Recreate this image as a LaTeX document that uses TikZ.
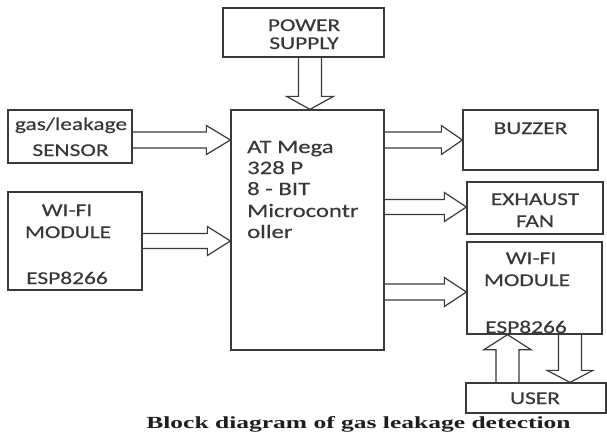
\documentclass[tikz,border=0pt]{standalone}
\usepackage{fontspec}
\usetikzlibrary{calc}
\newfontfamily\diagfont[FakeStretch=1.3,FakeBold=0.4]{Carlito}
\newfontfamily\capfont[FakeStretch=1.5]{Liberation Serif}
\definecolor{linegray}{HTML}{3A3A3A}
\definecolor{txtgray}{HTML}{383838}
\definecolor{capcol}{HTML}{1E1E1E}
\newcommand\blkH[5]{%
  \draw[barrow] let \p1=#1, \p2=#2 in
    (\x1,{\y2+#3}) -- ({\x2-#5},{\y2+#3}) -- ({\x2-#5},{\y2+#4}) -- (\x2,\y2)
    -- ({\x2-#5},{\y2-#4}) -- ({\x2-#5},{\y2-#3}) -- (\x1,{\y2-#3});}
\newcommand\blkV[5]{%
  \draw[barrow] let \p1=#1, \p2=#2 in
    ({\x2-#3},\y1) -- ({\x2-#3},{\y2+(#5)}) -- ({\x2-#4},{\y2+(#5)}) -- (\x2,\y2)
    -- ({\x2+#4},{\y2+(#5)}) -- ({\x2+#3},{\y2+(#5)}) -- ({\x2+#3},\y1);}
\begin{document}
\begin{tikzpicture}[x=1pt,y=-1pt,
  box/.style={draw=linegray,line width=1.3pt,inner sep=0pt,rectangle},
  lbl/.style={inner sep=0pt,anchor=base,text=txtgray,font=\diagfont\fontsize{18}{21}\selectfont},
  mculbl/.style={inner sep=0pt,anchor=base west,text=txtgray,font=\diagfont\fontsize{19}{21}\selectfont},
  barrow/.style={draw=linegray,line width=1.2pt,line join=miter}]
\useasboundingbox (0,0) rectangle (607,434);
% boxes
\node[box,minimum width=161pt,minimum height=49pt] (power) at (303.5,32.5) {};
\node[box,minimum width=124pt,minimum height=53pt] (sensor) at (70,136.5) {};
\node[box,minimum width=134pt,minimum height=98pt] (wifiL) at (75,241) {};
\node[box,minimum width=153pt,minimum height=240pt] (mcu) at (307.5,230) {};
\node[box,minimum width=135pt,minimum height=60pt] (buzzer) at (530.5,140) {};
\node[box,minimum width=136pt,minimum height=52pt] (exhaust) at (535,208) {};
\node[box,minimum width=135pt,minimum height=92pt] (wifiR) at (534.5,288) {};
\node[box,minimum width=140pt,minimum height=30pt] (user) at (536,398) {};
% texts
\node[lbl] (tpow1) at (304,31) {POWER};
\node[lbl] (tpow2) at (304,49) {SUPPLY};
\node[lbl] (tsen1) at (71,130) {gas/leakage};
\node[lbl] (tsen2) at (70.5,156) {SENSOR};
\node[lbl] (twl1) at (67,216) {WI-FI};
\node[lbl] (twl2) at (68,238) {MODULE};
\node[lbl] (twl3) at (67,284) {ESP8266};
\node[mculbl] (tm1) at (247,153) {AT Mega};
\node[mculbl] (tm2) at (247,174) {328 P};
\node[mculbl] (tm3) at (247,195) {8 - BIT};
\node[mculbl] (tm4) at (247,217) {Microcontr};
\node[mculbl] (tm5) at (247,238) {oller};
\node[lbl] (tbuz) at (530.5,134) {BUZZER};
\node[lbl] (tex1) at (535,205) {EXHAUST};
\node[lbl] (tex2) at (535,227) {FAN};
\node[lbl] (twr1) at (531,264) {WI-FI};
\node[lbl] (twr2) at (527,286) {MODULE};
\node[lbl] (twr3) at (526,333) {ESP8266};
\node[lbl] (tuser) at (535,404) {USER};
\node[inner sep=0pt,anchor=base,text=capcol,font=\capfont\bfseries\fontsize{17}{20}\selectfont] (caption) at (358.5,428) {Block diagram of gas leakage detection};
% arrow reference coordinates
\coordinate (yS) at (0,140);
\coordinate (yW) at (0,241);
\coordinate (yB) at (0,140);
\coordinate (yE) at (0,207);
\coordinate (yR) at (0,292);
\coordinate (xP) at (310,0);
\coordinate (xU) at (507.5,0);
\coordinate (xD) at (570,0);
% arrows
\blkV{(power.south -| xP)}{(mcu.north -| xP)}{11.5pt}{23.5pt}{13pt}
\blkH{(sensor.east |- yS)}{(mcu.west |- yS)}{8pt}{14.5pt}{24pt}
\blkH{(wifiL.east |- yW)}{(mcu.west |- yW)}{7.5pt}{14.5pt}{23pt}
\blkH{(mcu.east |- yB)}{(buzzer.west |- yB)}{8pt}{14.5pt}{21pt}
\blkH{(mcu.east |- yE)}{(exhaust.west |- yE)}{7.5pt}{14.5pt}{22pt}
\blkH{(mcu.east |- yR)}{(wifiR.west |- yR)}{8pt}{14.5pt}{22pt}
\blkV{(user.north -| xU)}{(wifiR.south -| xU)}{11.5pt}{23.5pt}{-15pt}
\blkV{(wifiR.south -| xD)}{(user.north -| xD)}{11.5pt}{23pt}{12pt}
\end{tikzpicture}
\end{document}
